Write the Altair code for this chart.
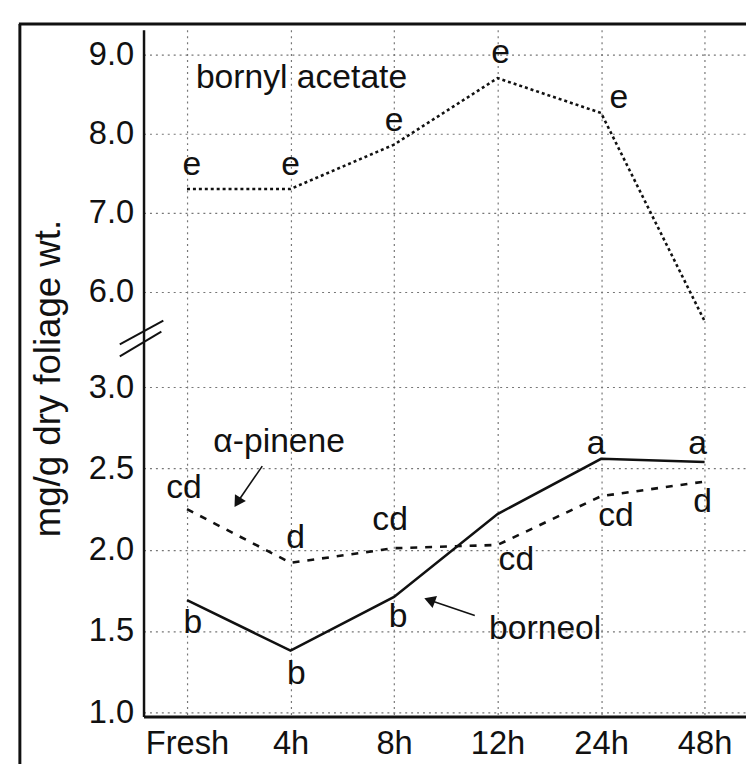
import altair as alt
import pandas as pd

# ---------------- data ----------------
CATEGORIES = ["Fresh", "4h", "8h", "12h", "24h", "48h"]
BORNYL_ACETATE = [7.30, 7.30, 7.86, 8.70, 8.26, 5.63]
ALPHA_PINENE = [2.25, 1.92, 2.01, 2.03, 2.33, 2.42]
BORNEOL = [1.69, 1.38, 1.71, 2.22, 2.56, 2.54]

BORNYL_LETTERS = ["e", "e", "e", "e", "e", ""]
ALPHA_LETTERS = ["cd", "d", "cd", "cd", "cd", "d"]
BORNEOL_LETTERS = ["b", "b", "b", "", "a", "a"]

Y_TICKS = [1.0, 1.5, 2.0, 2.5, 3.0, 6.0, 7.0, 8.0, 9.0]
# broken axis: lower segment 0.975-3.30, upper segment 5.41-9.31
Y_DOMAIN = [0.975, 3.30, 5.41, 9.31]

SERIES_NAMES = ["bornyl acetate", "α-pinene", "borneol"]
NAME_X = [0.086, 0.89, 3.46]
NAME_Y = [8.57, 2.66, 1.51]

ARROW_START_X = [0.727, 2.78]
ARROW_START_Y = [2.515, 1.596]
ARROW_END_X = [0.497, 2.36]
ARROW_END_Y = [2.302, 1.687]
ARROW_ANGLE = [212, 290]

Y_TITLE = "mg/g dry foliage wt."

# ---------------- styles ----------------
W, H = 609, 694
BREAK_PX = 312
FONT = "Liberation Sans"
INK = "#111111"

LETTER_OFFSETS = {
    "bornyl": [(5, -24), (0, -24), (0, -24), (3, -25), (18, -15), (0, 0)],
    "alpha": [(-3, -21), (5, -25), (-4, -28), (19, 15), (15, 20), (-2, 21)],
    "borneol": [(6, 23), (6, 24), (4, 20), (0, 0), (-5, -15), (-7, -18)],
}

idx = list(range(len(CATEGORIES)))
label_expr = "[" + ",".join(f"'{c}'" for c in CATEGORIES) + "][datum.value]"

x_scale = alt.Scale(domain=[-0.42, 5.40], nice=False, zero=False)
y_scale = alt.Scale(domain=Y_DOMAIN, range=[H, BREAK_PX, BREAK_PX, 0], nice=False, zero=False)

x_axis = alt.Axis(values=idx, labelExpr=label_expr, title=None, ticks=False,
                  grid=True, gridDash=[2, 4], gridColor="#777777", gridWidth=1.2,
                  domainColor=INK, domainWidth=3, labelFont=FONT, labelFontSize=33,
                  labelColor=INK, labelPadding=11, labelFlush=False, labelOverlap=False)
y_axis = alt.Axis(values=Y_TICKS, format=".1f", title=Y_TITLE, ticks=False,
                  grid=True, gridDash=[2, 4], gridColor="#777777", gridWidth=1.2,
                  domainColor=INK, domainWidth=2.5, labelFont=FONT, labelFontSize=33,
                  labelColor=INK, labelPadding=10, labelOverlap=False, labelFlush=False,
                  titleFont=FONT, titleFontSize=37, titleFontWeight="normal", titleColor=INK,
                  titleAngle=270, titleX=-96, titleY=352, titleAlign="center",
                  titleBaseline="middle")

df = pd.DataFrame({
    "i": idx,
    "cat": CATEGORIES,
    "bornyl": BORNYL_ACETATE,
    "alpha": ALPHA_PINENE,
    "borneol": BORNEOL,
})


def xy(xfield, yfield):
    return dict(
        x=alt.X(f"{xfield}:Q", scale=x_scale, axis=x_axis),
        y=alt.Y(f"{yfield}:Q", scale=y_scale, axis=y_axis),
    )


layers = []
layers.append(alt.Chart(df).mark_line(color=INK, strokeWidth=2.6, strokeDash=[3, 3])
              .encode(**xy("i", "bornyl")))
layers.append(alt.Chart(df).mark_line(color=INK, strokeWidth=2.6, strokeDash=[7, 8])
              .encode(**xy("i", "alpha")))
layers.append(alt.Chart(df).mark_line(color=INK, strokeWidth=2.6)
              .encode(**xy("i", "borneol")))

# significance letters
for field, letters in (("bornyl", BORNYL_LETTERS), ("alpha", ALPHA_LETTERS),
                       ("borneol", BORNEOL_LETTERS)):
    for k, letter in enumerate(letters):
        if not letter:
            continue
        dx, dy = LETTER_OFFSETS[field][k]
        one = pd.DataFrame({"i": [idx[k]], field: [df[field][k]], "t": [letter]})
        layers.append(
            alt.Chart(one).mark_text(font=FONT, fontSize=34, color=INK, dx=dx, dy=dy,
                                     align="center", baseline="middle")
            .encode(**xy("i", field), text="t:N"))

# series names
names = pd.DataFrame({"x": NAME_X, "y": NAME_Y, "t": SERIES_NAMES})
layers.append(
    alt.Chart(names.iloc[[0]]).mark_text(font=FONT, fontSize=34, color=INK, align="left",
                                         baseline="alphabetic")
    .encode(**xy("x", "y"), text="t:N"))
layers.append(
    alt.Chart(names.iloc[1:]).mark_text(font=FONT, fontSize=34, color=INK, align="center",
                                        baseline="middle")
    .encode(**xy("x", "y"), text="t:N"))

# arrows
arrows = pd.DataFrame({"x": ARROW_START_X, "y": ARROW_START_Y,
                       "x2": ARROW_END_X, "y2": ARROW_END_Y, "a": ARROW_ANGLE})
layers.append(
    alt.Chart(arrows).mark_rule(color=INK, strokeWidth=1.6)
    .encode(**xy("x", "y"), x2="x2:Q", y2="y2:Q"))
layers.append(
    alt.Chart(arrows).mark_point(shape="triangle", filled=True, color=INK, size=170, opacity=1)
    .encode(**xy("x2", "y2"), angle=alt.Angle("a:Q", scale=None)))

# axis break marks and outer frame (decoration)
dummy = pd.DataFrame({"d": [0]})
for (xa, xb, ya, yb) in ((-24, 20, 318, 294), (-24, 18, 330, 305)):
    layers.append(alt.Chart(dummy).mark_rule(color=INK, strokeWidth=2)
                  .encode(x=alt.value(xa), x2=alt.value(xb), y=alt.value(ya), y2=alt.value(yb)))
layers.append(alt.Chart(dummy).mark_rule(color=INK, strokeWidth=3)
              .encode(x=alt.value(-125), x2=alt.value(-125), y=alt.value(-6), y2=alt.value(760)))
layers.append(alt.Chart(dummy).mark_rule(color=INK, strokeWidth=3)
              .encode(x=alt.value(-126), x2=alt.value(640), y=alt.value(-6), y2=alt.value(-6)))

chart = (
    alt.layer(*layers)
    .properties(width=W, height=H,
                autosize=alt.AutoSizeParams(type="none"),
                padding={"left": 137, "top": 18, "right": 0, "bottom": 44},
                background="white")
    .configure_view(stroke=None)
)

chart.save("out.html", embed_options={"renderer": "svg", "actions": False})
